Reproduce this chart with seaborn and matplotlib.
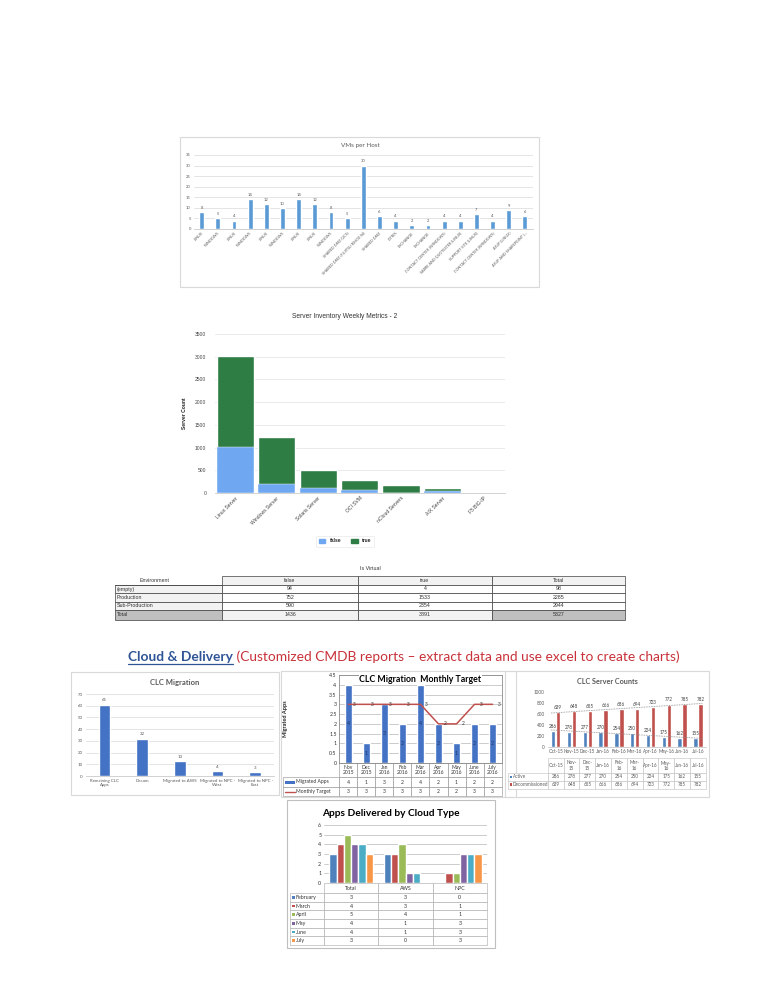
import numpy as np
import pandas as pd
import matplotlib
matplotlib.use("Agg")
import matplotlib.pyplot as plt
from matplotlib.patches import Rectangle, Patch
from matplotlib.lines import Line2D
import seaborn as sns

sns.set_theme(style="white")
plt.rcParams['font.family'] = ['Lato', 'DejaVu Sans']

# ---------------- data ----------------
vm_hosts = ["LINUX", "WINDOWS", "LINUX", "WINDOWS", "LINUX", "WINDOWS", "LINUX", "LINUX", "WINDOWS",
            "SHARED DMZ (UCS)", "SHARED DMZ (FUJITSU RX600 S6)", "SHARED DMZ", "CITRIX", "EXCHANGE",
            "EXCHANGE", "CONTACT CENTER (WINDOWS)", "SABRE AND QUOTESTER (LINUX)", "SUPPORT SITE (LINUX)",
            "CONTACT CENTER (WINDOWS)", "ASUP (LINUX)", "ASUP AND SHAREPOINT (..."]
vm_counts = [8, 5, 4, 14, 12, 10, 14, 12, 8, 5, 30, 6, 4, 2, 2, 4, 4, 7, 4, 9, 6]

server_types = ["Linux Server", "Windows Server", "Solaris Server", "OCI SVM", "nCloud Servers",
                "AIX Server", "F5 BIG-IP"]
inv_false = [1020, 200, 100, 70, 10, 40, 0]
inv_true = [1990, 1040, 410, 220, 160, 70, 0]

env_rows = ["(empty)", "Production", "Sub-Production", "Total"]
env_cols = ["false", "true", "Total"]
env_false = [94, 752, 590, 1436]
env_true = [4, 1533, 2354, 3891]
env_total = [98, 2285, 2944, 5327]

clc_cats = ["Remaining CLC\nApps", "Decom", "Migrated to AWS", "Migrated to NPC -\nWest",
            "Migrated to NPC -\nEast"]
clc_vals = [61, 32, 13, 4, 3]

mig_months = ["Nov\n2015", "Dec\n2015", "Jan\n2016", "Feb\n2016", "Mar\n2016", "Apr\n2016",
              "May\n2016", "June\n2016", "July\n2016"]
mig_apps = [4, 1, 3, 2, 4, 2, 1, 2, 2]
mig_target = [3, 3, 3, 3, 3, 2, 2, 3, 3]

srv_months = ["Oct-15", "Nov-15", "Dec-15", "Jan-16", "Feb-16", "Mar-16", "Apr-16", "May-16",
              "Jun-16", "Jul-16"]
srv_table_labels = ["Oct-15", "Nov-\n15", "Dec-\n15", "Jan-16", "Feb-\n16", "Mar-\n16", "Apr-16",
                    "May-\n16", "Jun-16", "Jul-16"]
srv_active = [286, 278, 277, 270, 254, 250, 224, 175, 162, 155]
srv_decom = [639, 648, 655, 666, 686, 694, 723, 772, 785, 782]

cloud_types = ["Total", "AWS", "NPC"]
app_months = ["February", "March", "April", "May", "June", "July"]
apps_feb = [3, 3, 0]
apps_mar = [4, 3, 1]
apps_apr = [5, 4, 1]
apps_may = [4, 1, 3]
apps_jun = [4, 1, 3]
apps_jul = [3, 0, 3]
app_colors = ["#4F81BD", "#C0504D", "#9BBB59", "#8064A2", "#4BACC6", "#F79646"]

# ---------------- figure ----------------
W, H = 772, 999
fig = plt.figure(figsize=(W / 100, H / 100), dpi=100)
fig.patch.set_facecolor("white")

ov = fig.add_axes([0, 0, 1, 1], zorder=-10)
ov.set_xlim(0, W)
ov.set_ylim(H, 0)
ov.axis("off")

ARIAL = ["Liberation Sans", "DejaVu Sans"]


def add_ax(x0, y0, x1, y1):
    return fig.add_axes([x0 / W, 1 - y1 / H, (x1 - x0) / W, (y1 - y0) / H])


def frame(x0, y0, x1, y1, ec="#D9D9D9", lw=0.8):
    ov.add_patch(Rectangle((x0, y0), x1 - x0, y1 - y0, fill=False, ec=ec, lw=lw))


def cell(x0, y0, x1, y1, text="", fc="white", ec="#7F7F7F", lw=0.4, fs=3.5, ha="center",
         color="#404040", family=None, pad=1.5, draw_box=True):
    if draw_box:
        ov.add_patch(Rectangle((x0, y0), x1 - x0, y1 - y0, fc=fc, ec=ec, lw=lw))
    if text != "":
        x = (x0 + x1) / 2 if ha == "center" else x0 + pad
        ov.text(x, (y0 + y1) / 2, text, ha=ha, va="center", fontsize=fs, color=color,
                family=family, linespacing=1.0)


def ftext(x, y, s, **kw):
    return fig.text(x / W, 1 - y / H, s, **kw)


# ---------- 1. VMs per Host ----------
frame(180, 137, 539, 287)
ftext(360, 145, "VMs per Host", ha="center", va="center", fontsize=4.5, color="#595959")
ax1 = add_ax(193.6, 155, 533, 229)
df1 = pd.DataFrame({"pos": np.arange(len(vm_counts)), "vms": vm_counts})
sns.barplot(data=df1, x="pos", y="vms", color="#5B9BD5", width=0.3, saturation=1, ax=ax1)
ax1.set_ylim(0, 35)
ax1.set_yticks(range(0, 36, 5))
ax1.set_xticks(range(len(vm_hosts)))
ax1.set_xticklabels(vm_hosts, rotation=45, ha="right", rotation_mode="anchor", fontsize=2.7,
                    color="#595959")
ax1.tick_params(axis="y", labelsize=3, colors="#595959", length=0, pad=2)
ax1.tick_params(axis="x", length=0, pad=1.5)
ax1.grid(axis="y", color="#D9D9D9", lw=0.5)
ax1.set_axisbelow(True)
for s in ["top", "right", "left"]:
    ax1.spines[s].set_visible(False)
ax1.spines["bottom"].set_color("#BFBFBF")
ax1.spines["bottom"].set_linewidth(0.5)
ax1.bar_label(ax1.containers[0], fontsize=3, color="#595959", padding=1.5)
ax1.set_xlabel("")
ax1.set_ylabel("")

# ---------- 2. Server Inventory ----------
ftext(345, 316, "Server Inventory Weekly Metrics - 2", ha="center", va="center", fontsize=4.8,
      color="#333333", family=ARIAL)
ax2 = add_ax(214.6, 334, 504.6, 493)
df2 = pd.DataFrame({"type": server_types, "false": inv_false, "true": inv_true})
df2["total"] = df2["false"] + df2["true"]
sns.barplot(data=df2, x="type", y="total", color="#2E7D45", width=0.9, saturation=1, ax=ax2)
sns.barplot(data=df2, x="type", y="false", color="#6FA8F0", width=0.9, saturation=1, ax=ax2,
            edgecolor="white", linewidth=0.3)
ax2.set_ylim(0, 3500)
ax2.set_yticks(range(0, 3501, 500))
ax2.set_xticks(range(len(server_types)))
ax2.set_xticklabels(server_types, rotation=45, ha="right", rotation_mode="anchor", fontsize=3.6,
                    color="#444444", family=ARIAL)
for lab in ax2.get_yticklabels():
    lab.set_family(ARIAL)
ax2.tick_params(axis="y", labelsize=3.6, colors="#444444", length=0, pad=6)
ax2.tick_params(axis="x", length=0, pad=2)
ax2.grid(axis="y", color="#E6E6E6", lw=0.6)
ax2.set_axisbelow(True)
for s in ["top", "right", "left"]:
    ax2.spines[s].set_visible(False)
ax2.spines["bottom"].set_color("#CCCCCC")
ax2.spines["bottom"].set_linewidth(0.6)
ax2.set_xlabel("")
ax2.set_ylabel("Server Count", fontsize=3.6, fontweight="bold", family=ARIAL, labelpad=6)
leg = ax2.legend(handles=[Patch(color="#6FA8F0"), Patch(color="#2E7D45")], labels=["false", "true"],
                 loc="center", bbox_to_anchor=(345 / W, 1 - 541 / H), bbox_transform=fig.transFigure,
                 ncol=2, prop={"size": 3.6, "weight": "bold", "family": ARIAL}, frameon=True,
                 handlelength=1.3, handleheight=0.9, columnspacing=2.0, borderpad=0.6)
leg.get_frame().set_edgecolor("#E3E3E3")
leg.get_frame().set_linewidth(0.5)

# ---------- 3. Is Virtual table ----------
ftext(370, 569, "Is Virtual", ha="center", va="center", fontsize=3.8, color="#333333", family=ARIAL)
col_x = [115, 222, 358, 492, 625]
row_y = [576, 585, 593, 601.5, 610, 620]
ov.text(155, (row_y[0] + row_y[1]) / 2, "Environment", ha="center", va="center", fontsize=3.8,
        color="#333333", family=ARIAL)
ov.plot([col_x[0], col_x[1]], [row_y[1], row_y[1]], color="#404040", lw=0.5)
for j, name in enumerate(env_cols):
    cell(col_x[j + 1], row_y[0], col_x[j + 2], row_y[1], name, fc="#F2F2F2", ec="#404040", lw=0.5,
         fs=3.8, color="#333333", family=ARIAL)
for i, name in enumerate(env_rows):
    last = i == len(env_rows) - 1
    y0, y1 = row_y[i + 1], row_y[i + 2]
    cell(col_x[0], y0, col_x[1], y1, name, fc="#BFBFBF" if last else "#F2F2F2", ec="#404040",
         lw=0.5, fs=3.8, ha="left", color="#333333", family=ARIAL, pad=2)
    vals = [env_false[i], env_true[i], env_total[i]]
    fills = ["#F2F2F2", "#F2F2F2", "#BFBFBF"] if last else ["white", "white", "white"]
    for j, v in enumerate(vals):
        cell(col_x[j + 1], y0, col_x[j + 2], y1, str(v), fc=fills[j], ec="#404040", lw=0.5, fs=3.8,
             color="#333333", family=ARIAL)

# ---------- 4. Heading ----------
renderer = fig.canvas.get_renderer()
h1 = "Cloud & Delivery"
h2 = " (Customized CMDB reports \u2013 extract data and use excel to create charts)"
fs = 9.0
t1 = ftext(128, 661, h1, fontsize=fs, fontweight="bold", color="#2F5597", va="baseline")
t2 = ftext(128, 661, h2, fontsize=fs, color="#C8323A", va="baseline")
w_total = t1.get_window_extent(renderer).width + t2.get_window_extent(renderer).width
fs = fs * 553.0 / w_total
t1.set_fontsize(fs)
t2.set_fontsize(fs)
w1 = t1.get_window_extent(renderer).width
t2.set_x((128 + w1) / W)
fig.lines.append(Line2D([128 / W, (128 + w1) / W], [1 - 663.5 / H, 1 - 663.5 / H],
                        transform=fig.transFigure, color="#2F5597", lw=0.9))

# ---------- 5. CLC Migration ----------
frame(71, 672, 279, 795)
ftext(175, 682, "CLC Migration", ha="center", va="center", fontsize=5.5, fontweight="bold",
      color="#595959")
ax5 = add_ax(85.5, 694, 274, 776)
sns.barplot(x=clc_cats, y=clc_vals, color="#4472C4", width=0.31, saturation=1, ax=ax5)
ax5.set_ylim(0, 70)
ax5.set_yticks(range(0, 71, 10))
ax5.tick_params(axis="y", labelsize=3.2, colors="#595959", length=0, pad=2)
ax5.tick_params(axis="x", labelsize=3.2, colors="#595959", length=0, pad=2)
for lab in ax5.get_xticklabels():
    lab.set_linespacing(1.0)
ax5.grid(axis="y", color="#D9D9D9", lw=0.5)
ax5.set_axisbelow(True)
for s in ["top", "right", "left"]:
    ax5.spines[s].set_visible(False)
ax5.spines["bottom"].set_color("#BFBFBF")
ax5.spines["bottom"].set_linewidth(0.5)
ax5.bar_label(ax5.containers[0], fontsize=3.2, color="#595959", padding=1.5)

# ---------- 6. CLC Migration Monthly Target ----------
frame(281, 671, 516, 797)
n6 = len(mig_months)
ax6 = add_ax(339.3, 675, 501.6, 763)
sns.barplot(x=mig_months, y=mig_apps, color="#4472C4", width=0.38, saturation=1, ax=ax6)
sns.lineplot(x=np.arange(n6), y=mig_target, color="#C0504D", lw=1.1, ax=ax6)
ax6.set_xlim(-0.5, n6 - 0.5)
ax6.set_ylim(0, 4.5)
yt = np.arange(0, 4.51, 0.5)
ax6.set_yticks(yt)
ax6.set_yticklabels([f"{v:g}" for v in yt])
ax6.set_xticks([])
ax6.tick_params(axis="y", labelsize=3.8, colors="#333333", length=0, pad=2)
ax6.grid(axis="y", color="#A6A6A6", lw=0.4)
ax6.set_axisbelow(True)
for s in ax6.spines.values():
    s.set_color("#8C8C8C")
    s.set_linewidth(0.6)
ax6.bar_label(ax6.containers[0], label_type="center", fontsize=3.8, color="#1F3864")
for i, v in enumerate(mig_target):
    ax6.annotate(str(v), (i, v), xytext=(3.5, 0), textcoords="offset points", fontsize=3.5,
                 va="center", ha="left", color="#333333")
ax6.text(0.5, 4.27, "CLC Migration  Monthly Target", transform=ax6.get_yaxis_transform(),
         ha="center", va="center", fontsize=6.3, fontweight="bold", color="black",
         bbox=dict(fc="white", ec="none", pad=0.5))
ftext(286, 719, "Migrated Apps", rotation=90, ha="center", va="center", fontsize=4,
      fontweight="bold", color="#222222")
xs6 = [283] + [339.3 + (501.6 - 339.3) / n6 * i for i in range(n6 + 1)]
ry6 = [763, 777, 787, 796]
for j, m in enumerate(mig_months):
    cell(xs6[j + 1], ry6[0], xs6[j + 2], ry6[1], m, ec="#8C8C8C", fs=3.6, color="#333333")
    cell(xs6[j + 1], ry6[1], xs6[j + 2], ry6[2], str(mig_apps[j]), ec="#8C8C8C", fs=3.6,
         color="#333333")
    cell(xs6[j + 1], ry6[2], xs6[j + 2], ry6[3], str(mig_target[j]), ec="#8C8C8C", fs=3.6,
         color="#333333")
cell(xs6[0], ry6[1], xs6[1], ry6[2], "Migrated Apps", ec="#8C8C8C", fs=3.6, ha="left", pad=13,
     color="#333333")
cell(xs6[0], ry6[2], xs6[1], ry6[3], "Monthly Target", ec="#8C8C8C", fs=3.6, ha="left", pad=13,
     color="#333333")
ov.add_patch(Rectangle((285, (ry6[1] + ry6[2]) / 2 - 1.5), 10, 3, fc="#4472C4", ec="none"))
ov.plot([285, 295], [(ry6[2] + ry6[3]) / 2] * 2, color="#C0504D", lw=1.0)
ov.add_patch(Rectangle((509.5, 775.5), 2.5, 2.5, fc="#4472C4", ec="none"))
ov.add_patch(Rectangle((509.5, 785.5), 2.5, 2.5, fc="#C0504D", ec="none"))

# ---------- 7. CLC Server Counts ----------
frame(505, 671, 709, 797)
ftext(607, 681, "CLC Server Counts", ha="center", va="center", fontsize=5.2, fontweight="bold",
      color="#595959")
ax7 = add_ax(547.8, 692, 705.8, 747)
df7 = pd.DataFrame({"month": srv_months * 2,
                    "status": ["Active"] * len(srv_months) + ["Decommissioned"] * len(srv_months),
                    "count": srv_active + srv_decom})
sns.barplot(data=df7, x="month", y="count", hue="status", order=srv_months,
            hue_order=["Active", "Decommissioned"], palette=["#4F81BD", "#C0504D"], width=0.62,
            gap=0.12, saturation=1, legend=False, ax=ax7)
xx = np.arange(len(srv_months))
for series in (srv_active, srv_decom):
    k, b = np.polyfit(xx, series, 1)
    xl = np.array([-0.3, len(srv_months) - 0.7])
    sns.lineplot(x=xl, y=k * xl + b, color="#8C8C8C", lw=0.6, ls=(0, (1, 1)), ax=ax7)
ax7.set_xlim(-0.5, len(srv_months) - 0.5)
ax7.set_ylim(0, 1000)
ax7.set_yticks(range(0, 1001, 200))
ax7.tick_params(axis="y", labelsize=3.3, colors="#595959", length=0, pad=2)
ax7.tick_params(axis="x", labelsize=3.3, colors="#595959", length=0, pad=1.5)
for s in ["top", "right", "left"]:
    ax7.spines[s].set_visible(False)
ax7.spines["bottom"].set_color("#BFBFBF")
ax7.spines["bottom"].set_linewidth(0.5)
ax7.set_xlabel("")
ax7.set_ylabel("")
for cont in ax7.containers:
    ax7.bar_label(cont, fontsize=3.3, color="#404040", padding=1.5)
nm = len(srv_months)
xs7 = [508] + [547.8 + (705.8 - 547.8) / nm * i for i in range(nm + 1)]
ry7 = [758, 773, 780.5, 788.5]
for j in range(nm):
    cell(xs7[j + 1], ry7[0], xs7[j + 2], ry7[1], srv_table_labels[j], ec="#BFBFBF", fs=3.3,
         color="#595959")
    cell(xs7[j + 1], ry7[1], xs7[j + 2], ry7[2], str(srv_active[j]), ec="#BFBFBF", fs=3.3,
         color="#595959")
    cell(xs7[j + 1], ry7[2], xs7[j + 2], ry7[3], str(srv_decom[j]), ec="#BFBFBF", fs=3.3,
         color="#595959")
cell(xs7[0], ry7[1], xs7[1], ry7[2], "Active", ec="#BFBFBF", fs=3.3, ha="left", pad=5,
     color="#595959")
cell(xs7[0], ry7[2], xs7[1], ry7[3], "Decommissioned", ec="#BFBFBF", fs=3.3, ha="left", pad=5,
     color="#595959")
ov.add_patch(Rectangle((509.5, (ry7[1] + ry7[2]) / 2 - 1.2), 2.4, 2.4, fc="#4F81BD", ec="none"))
ov.add_patch(Rectangle((509.5, (ry7[2] + ry7[3]) / 2 - 1.2), 2.4, 2.4, fc="#C0504D", ec="none"))

# ---------- 8. Apps Delivered by Cloud Type ----------
frame(287, 800, 495, 948, ec="#BFBFBF")
ftext(391, 813, "Apps Delivered by Cloud Type", ha="center", va="center", fontsize=7.3,
      fontweight="bold", color="black")
ax8 = add_ax(324, 825, 487, 883)
app_table = [apps_feb, apps_mar, apps_apr, apps_may, apps_jun, apps_jul]
df8 = pd.DataFrame([{"cloud": c, "month": m, "apps": row[k]}
                    for m, row in zip(app_months, app_table) for k, c in enumerate(cloud_types)])
sns.barplot(data=df8, x="cloud", y="apps", hue="month", order=cloud_types, hue_order=app_months,
            palette=app_colors, width=0.8, saturation=1, legend=False, ax=ax8)
ax8.set_ylim(0, 6)
ax8.set_yticks(range(0, 7))
ax8.set_xticks([])
ax8.tick_params(axis="y", labelsize=3.8, colors="#333333", length=0, pad=2)
ax8.grid(axis="y", color="#A6A6A6", lw=0.4)
ax8.set_axisbelow(True)
for s in ["top", "right", "left", "bottom"]:
    ax8.spines[s].set_visible(False)
ax8.set_xlabel("")
ax8.set_ylabel("")
xs8 = [290] + [324 + (487 - 324) / 3 * i for i in range(4)]
ry8 = [883, 893] + [893 + 52 / 6 * (i + 1) for i in range(6)]
for j, c in enumerate(cloud_types):
    cell(xs8[j + 1], ry8[0], xs8[j + 2], ry8[1], c, ec="#A6A6A6", fs=3.8, color="#333333")
for i, (m, row) in enumerate(zip(app_months, app_table)):
    cell(xs8[0], ry8[i + 1], xs8[1], ry8[i + 2], m, ec="#A6A6A6", fs=3.8, ha="left", pad=6,
         color="#333333")
    ov.add_patch(Rectangle((292, (ry8[i + 1] + ry8[i + 2]) / 2 - 1.4), 2.8, 2.8, fc=app_colors[i],
                           ec="none"))
    for j, v in enumerate(row):
        cell(xs8[j + 1], ry8[i + 1], xs8[j + 2], ry8[i + 2], str(v), ec="#A6A6A6", fs=3.8,
             color="#333333")

fig.savefig("out.png", dpi=100, facecolor="white")
